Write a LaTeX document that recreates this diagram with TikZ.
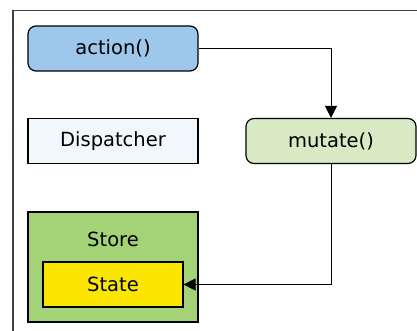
\documentclass[tikz,border=0pt]{standalone}
\usepackage{fontspec}
\setmainfont{DejaVu Sans}
\usetikzlibrary{arrows.meta}
\begin{document}
\begin{tikzpicture}[x=1pt,y=-1pt,
  lbl/.style={font=\fontsize{19.5}{22}\selectfont},
  box/.style={lbl,draw=black,line width=1.2pt,minimum width=170pt,minimum height=45pt,inner sep=0pt},
  rbox/.style={box,rounded corners=8pt},
  conn/.style={draw=black,line width=1pt,-{Triangle[length=12pt,width=12pt]}}]
\useasboundingbox (0,0) rectangle (417,331);
\begin{scope}
\clip (0,0) rectangle (417,331);
\draw[line width=1.6pt,draw=black!75] (13,10.5) rectangle (440,350);
\end{scope}
\node[rbox,fill={rgb,255:red,157;green,199;blue,235}] (action) at (113,48.5) {action()};
\node[box,fill={rgb,255:red,240;green,248;blue,252}] (disp) at (113,141) {Dispatcher};
\node[rbox,fill={rgb,255:red,216;green,234;blue,196}] (mutate) at (331,141) {mutate()};
\node[box,fill={rgb,255:red,164;green,210;blue,118},minimum height=110pt] (store) at (113,267) {};
\node[lbl] (storelbl) at (113,239) {Store};
\node[box,fill={rgb,255:red,250;green,230;blue,0},minimum width=140pt,minimum height=45pt] (state) at (113,284.5) {State};
\draw[conn] (action.east) -| (mutate.north);
\draw[conn] (mutate.south) |- (state.east);
\end{tikzpicture}
\end{document}
